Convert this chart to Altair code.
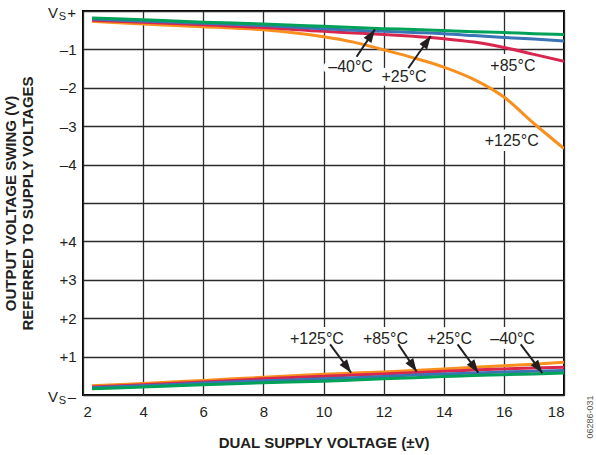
import math
import altair as alt
import pandas as pd

# ---------------- data ----------------
supply_v = [2.3, 4, 6, 8, 10, 11, 12, 13, 14, 15, 16, 17, 18]

temps = ["+125°C", "+85°C", "+25°C", "–40°C"]
temp_colors = ["#F7901E", "#D8264E", "#3B74B5", "#00A25A"]

# output swing referred to V_S+ (V, negative = below the rail)
high_125 = [-0.27, -0.34, -0.41, -0.49, -0.67, -0.81, -1.01, -1.22, -1.46, -1.78, -2.24, -2.93, -3.58]
high_85 = [-0.24, -0.29, -0.36, -0.43, -0.53, -0.57, -0.61, -0.66, -0.72, -0.81, -0.95, -1.13, -1.31]
high_25 = [-0.21, -0.26, -0.32, -0.38, -0.46, -0.50, -0.53, -0.56, -0.59, -0.64, -0.69, -0.73, -0.78]
high_m40 = [-0.18, -0.23, -0.29, -0.34, -0.40, -0.43, -0.46, -0.48, -0.51, -0.54, -0.56, -0.59, -0.61]

# output swing referred to V_S- (V, positive = above the rail)
low_125 = [0.24, 0.30, 0.38, 0.46, 0.54, 0.57, 0.60, 0.64, 0.68, 0.72, 0.76, 0.80, 0.85]
low_85 = [0.21, 0.27, 0.34, 0.42, 0.49, 0.52, 0.55, 0.58, 0.62, 0.65, 0.68, 0.70, 0.72]
low_25 = [0.19, 0.24, 0.31, 0.37, 0.42, 0.45, 0.48, 0.52, 0.55, 0.57, 0.60, 0.62, 0.64]
low_m40 = [0.16, 0.21, 0.27, 0.32, 0.36, 0.39, 0.42, 0.45, 0.48, 0.51, 0.53, 0.55, 0.57]

x_ticks = [2, 4, 6, 8, 10, 12, 14, 16, 18]
y_ticks = [0, 1, 2, 3, 4, 5, 6, 7, 8, 9, 10]
y_tick_labels = ["", "+1", "+2", "+3", "+4", "", "–4", "–3", "–2", "–1", ""]

# temperature callouts (label text and position in axis units)
top_label_text = ["–40°C", "+25°C", "+85°C", "+125°C"]
top_label_x = [10.90, 12.68, 16.30, 16.26]
top_label_y = [8.53, 8.27, 8.57, 6.62]
bottom_label_text = ["+125°C", "+85°C", "+25°C", "–40°C"]
bottom_label_x = [9.78, 12.06, 14.19, 16.29]
bottom_label_y = [1.46, 1.46, 1.46, 1.46]

# callout arrows: start and tip in axis units
arrow_x0 = [11.10, 12.82, 10.22, 12.49, 14.46, 16.56]
arrow_y0 = [8.81, 8.51, 1.32, 1.32, 1.32, 1.32]
arrow_x1 = [11.71, 13.57, 10.92, 13.10, 15.15, 17.28]
arrow_y1 = [9.52, 9.35, 0.58, 0.61, 0.58, 0.57]

FONT = "Liberation Sans"
INK = "#231f20"
W, H = 481, 384

# ---------------- tables ----------------
series = [
    ("+125°C", "high", high_125), ("+85°C", "high", high_85),
    ("+25°C", "high", high_25), ("–40°C", "high", high_m40),
    ("+125°C", "low", low_125), ("+85°C", "low", low_85),
    ("+25°C", "low", low_25), ("–40°C", "low", low_m40),
]
rows = []
for t, rail, vals in series:
    for v, s in zip(supply_v, vals):
        rows.append({"supply": v, "swing": s, "temp": t, "rail": rail})
curves = pd.DataFrame(rows)

labels = pd.DataFrame({
    "txt": top_label_text + bottom_label_text,
    "supply": top_label_x + bottom_label_x,
    "pos": top_label_y + bottom_label_y,
})

px_x = W / 16.0
px_y = H / 10.0
angles = []
for a, b, c, d in zip(arrow_x0, arrow_y0, arrow_x1, arrow_y1):
    dx = (c - a) * px_x
    dy = -(d - b) * px_y
    angles.append(math.degrees(math.atan2(dx, -dy)) % 360)
arrows = pd.DataFrame({"supply": arrow_x0, "pos": arrow_y0,
                       "supply2": arrow_x1, "pos2": arrow_y1, "ang": angles})

rails = pd.DataFrame({"supply": [2, 2], "pos": [10, 0], "sign": ["+", "–"]})
note = pd.DataFrame({"supply": [18], "pos": [0], "txt": ["06286-031"]})

# ---------------- scales / axes ----------------
xscale = alt.Scale(domain=[2, 18], nice=False, zero=False)
yscale = alt.Scale(domain=[0, 10], nice=False, zero=False)

label_arr = "[" + ",".join("'" + s + "'" for s in y_tick_labels) + "]"

x_axis = alt.Axis(values=x_ticks, title="DUAL SUPPLY VOLTAGE (±V)", ticks=False,
                  domain=False, grid=True, gridColor="#2b2b2b", gridWidth=1.3,
                  labelFont=FONT, labelFontSize=15, labelColor=INK, labelPadding=9,
                  titleFont=FONT, titleFontSize=15, titleFontWeight="bold",
                  titleColor=INK, titlePadding=16)
y_axis = alt.Axis(values=y_ticks, labelExpr=label_arr + "[datum.value]",
                  title=["OUTPUT VOLTAGE SWING (V)", "REFERRED TO SUPPLY VOLTAGES"],
                  ticks=False, domain=False, grid=True, gridColor="#2b2b2b",
                  gridWidth=1.3, labelFont=FONT, labelFontSize=15, labelColor=INK,
                  labelPadding=7, titleFont=FONT, titleFontSize=15,
                  titleFontWeight="bold", titleColor=INK, titleLineHeight=17,
                  titlePadding=23)


def X(f="supply"):
    return alt.X(f"{f}:Q", scale=xscale, axis=x_axis)


def Y(f="pos"):
    return alt.Y(f"{f}:Q", scale=yscale, axis=y_axis)


# ---------------- layers ----------------
halo = alt.Chart(labels).mark_text(font=FONT, fontSize=16, color="white",
                                   stroke="white", strokeWidth=10,
                                   strokeJoin="round").encode(
    x=X(), y=Y(), text="txt:N")

line_layers = []
for t, col in zip(temps, temp_colors):
    line_layers.append(
        alt.Chart(curves).transform_filter(alt.datum.temp == t).transform_calculate(
            pos="datum.rail == 'high' ? 10 + datum.swing : datum.swing"
        ).mark_line(color=col, strokeWidth=3, interpolate="monotone", clip=True).encode(
            x=X(), y=Y(), detail="rail:N")
    )

shafts = alt.Chart(arrows).mark_rule(color=INK, strokeWidth=2).encode(
    x=X(), y=Y(), x2=alt.X2("supply2:Q"), y2=alt.Y2("pos2:Q"))
heads = alt.Chart(arrows).mark_point(shape="M0,0L0.85,2.4L-0.85,2.4Z", filled=True,
                                     color=INK, opacity=1, size=121).encode(
    x=X("supply2"), y=Y("pos2"), angle=alt.Angle("ang:Q", scale=None))

texts = alt.Chart(labels).mark_text(font=FONT, fontSize=16, color=INK).encode(
    x=X(), y=Y(), text="txt:N")

rail_v = alt.Chart(rails).mark_text(font=FONT, fontSize=15, color=INK, align="right",
                                    baseline="middle", dx=-25, dy=2).encode(
    x=X(), y=Y(), text=alt.value("V"))
rail_s = alt.Chart(rails).mark_text(font=FONT, fontSize=11, color=INK, align="right",
                                    baseline="middle", dx=-17, dy=6).encode(
    x=X(), y=Y(), text=alt.value("S"))
rail_sign = alt.Chart(rails).mark_text(font=FONT, fontSize=15, color=INK, align="right",
                                       baseline="middle", dx=-7, dy=2).encode(
    x=X(), y=Y(), text="sign:N")

side = alt.Chart(note).mark_text(font=FONT, fontSize=9, color="#555555", angle=270,
                                 align="center", baseline="middle", dx=-22, dy=26).encode(
    x=X(), y=Y(), text="txt:N")

chart = alt.layer(halo, *line_layers, shafts, heads, texts, rail_v, rail_s, rail_sign,
                  side).properties(
    width=W, height=H, autosize=alt.AutoSizeParams(type="none"),
    padding={"left": 83, "top": 11, "right": 32, "bottom": 60},
    background="white",
).configure_view(stroke="black", strokeWidth=2)

chart.save("out.html", embed_options={"renderer": "svg", "actions": False})
